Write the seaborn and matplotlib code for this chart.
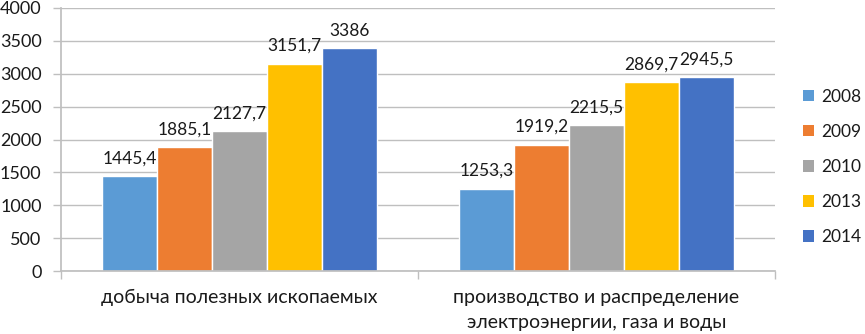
import matplotlib
matplotlib.use("Agg")
import matplotlib.pyplot as plt
import seaborn as sns
import pandas as pd
from matplotlib.patches import Patch

categories = ["добыча полезных ископаемых", "производство и распределение\nэлектроэнергии, газа и воды"]
years = ["2008", "2009", "2010", "2013", "2014"]
values_mining = [1445.4, 1885.1, 2127.7, 3151.7, 3386]
values_energy = [1253.3, 1919.2, 2215.5, 2869.7, 2945.5]
colors = ["#5B9BD5", "#ED7D31", "#A5A5A5", "#FFC000", "#4472C4"]
yticks = [0, 500, 1000, 1500, 2000, 2500, 3000, 3500, 4000]

rows = []
for y, v in zip(years, values_mining):
    rows.append({"cat": categories[0], "year": y, "val": v})
for y, v in zip(years, values_energy):
    rows.append({"cat": categories[1], "year": y, "val": v})
df = pd.DataFrame(rows)

sns.set_theme(style="white")
plt.rcParams["font.family"] = ["Lato", "DejaVu Sans"]
TXT = "#1a1a1a"
GRID = "#BFBFBF"

fig = plt.figure(figsize=(8.65, 3.34), dpi=100)
ax = fig.add_axes([61/865, 1 - 271/334, (775-61)/865, (271-8)/334])

sns.barplot(data=df, x="cat", y="val", hue="year", palette=colors, ax=ax,
            width=0.77, saturation=1, legend=False, gap=0)

for cont in ax.containers:
    labels = [("%g" % b.get_height()).replace(".", ",") for b in cont]
    ax.bar_label(cont, labels=labels, padding=7, fontsize=12.5, color=TXT)

ax.set_ylim(0, 4000)
ax.set_yticks(yticks)
ax.set_yticklabels([str(t) for t in yticks], fontsize=13, color=TXT)
ax.set_xlim(-0.5, 1.5)
ax.set_xticks([0, 1])
ax.set_xticklabels(categories, fontsize=14, color=TXT, linespacing=1.55)
ax.set_xlabel("")
ax.set_ylabel("")
ax.grid(axis="y", color=GRID, linewidth=1)
ax.set_axisbelow(True)
for s in ["top", "right"]:
    ax.spines[s].set_visible(False)
ax.spines["left"].set_color(GRID)
ax.spines["bottom"].set_color(GRID)
ax.tick_params(axis="y", length=6, color=GRID, width=1, pad=8, left=True)
ax.tick_params(axis="x", length=0, pad=13)
ax.set_xticks([-0.5, 0.5, 1.5], minor=True)
ax.tick_params(axis="x", which="minor", length=6, color=GRID, width=1, bottom=True)

handles = [Patch(facecolor=c, edgecolor="none") for c in colors]
fig.legend(handles, years, loc="center left", bbox_to_anchor=(803/865, 1 - 167/334),
           frameon=False, fontsize=12.5, handlelength=0.62, handleheight=0.62,
           labelspacing=1.1, handletextpad=0.45, borderpad=0, borderaxespad=0,
           labelcolor=TXT)

fig.savefig("out.png", dpi=100)
